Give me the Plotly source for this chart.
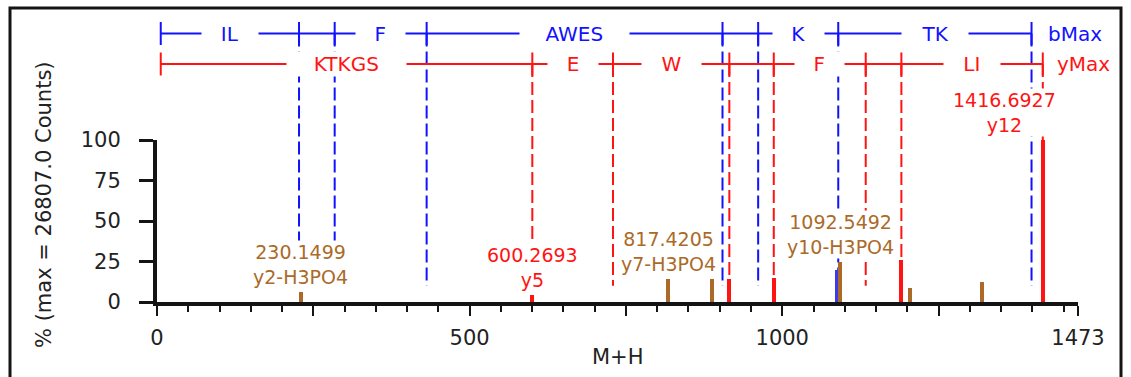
import plotly.graph_objects as go

# ---------------- data ----------------
# observed peaks (m/z, % of max intensity)
loss_mz = [230.15, 817.42, 888.0, 1092.55, 1204.0, 1320.0]      # brown: neutral-loss / other ions
loss_int = [6, 14, 14.5, 25, 8.5, 12.5]
y_mz = [600.27, 915.39, 986.43, 1190.52, 1416.69]               # red: y ions
y_int = [4.5, 14.5, 15, 26, 100]
b_mz = [1088.3]                                                  # blue: b ion
b_int = [20]

# annotated peaks
label_mz = [230.15, 600.27, 817.42, 1092.55, 1416.69]
label_int = [6, 4.5, 14, 25, 100]
label_text = ["230.1499<br>y2-H3PO4", "600.2693<br>y5", "817.4205<br>y7-H3PO4",
              "1092.5492<br>y10-H3PO4", "1416.6927<br>y12"]
label_kind = ["loss", "y", "loss", "loss", "y"]

# sequence ladders (fragment m/z values and residue labels between them)
b_ladder = [6, 227.16, 284.18, 431.25, 904.44, 961.46, 1089.55, 1398.68]
b_segments = ["IL", "", "F", "AWES", "", "K", "TK"]
y_ladder = [6, 600.27, 729.31, 915.39, 986.43, 1133.50, 1190.52, 1416.69]
y_segments = ["KTKGS", "E", "W", "", "F", "", "LI"]

x_tickvals = [0, 250, 500, 750, 1000, 1250, 1473]
x_ticktext = ["0", "", "500", "", "1000", "", "1473"]
y_tickvals = [0, 25, 50, 75, 100]

# ---------------- style ----------------
W, H = 1131, 377
ML, MR, MT, MB = 157, 53, 140, 75
PW, PH = W - ML - MR, H - MT - MB
BLUE, RED, BROWN, BPEAK = "#1212FF", "#FF1414", "#AB6A28", "#3C3CE6"
INK = "#141414"
FONT = "DejaVu Sans"

def py(pix):   # pixel row -> paper y
    return (H - MB - pix) / PH

def px(pix):   # pixel column -> paper x
    return (pix - ML) / PW

GLYPH = {'I': .295, 'L': .557, 'F': .575, 'A': .684, 'W': .989, 'E': .632,
         'S': .635, 'K': .656, 'T': .611, 'G': .775}

def box_w(t, size):
    return sum(GLYPH.get(c, .65) for c in t) * size * 1.27 + 34

fig = go.Figure()
fig.add_trace(go.Bar(x=b_mz, y=b_int, width=6.5, marker=dict(color=BPEAK, line=dict(width=0)),
                     name="b"))
fig.add_trace(go.Bar(x=loss_mz, y=loss_int, width=6.5, marker=dict(color=BROWN, line=dict(width=0)),
                     name="loss"))
fig.add_trace(go.Bar(x=y_mz, y=y_int, width=6.5, marker=dict(color=RED, line=dict(width=0)),
                     name="y"))

shapes = []
annotations = []

ladders = [(b_ladder, b_segments, BLUE, py(33.5), "bMax", 14),
           (y_ladder, y_segments, RED, py(64), "yMax", 12)]
tick_half = 11.5 / PH
for masses, segs, col, yl, endlab, endshift in ladders:
    # dashed drop lines from each fragment position
    for m in masses[1:]:
        shapes.append(dict(type="line", xref="x", yref="paper", x0=m, x1=m, y0=yl, y1=0.1,
                           line=dict(color=col, width=2, dash="13px,5px"), layer="below"))
for masses, segs, col, yl, endlab, endshift in ladders:
    shapes.append(dict(type="line", xref="x", yref="paper", x0=masses[0], x1=masses[-1],
                       y0=yl, y1=yl, line=dict(color=col, width=2), layer="above"))
    for m in masses:
        shapes.append(dict(type="line", xref="x", yref="paper", x0=m, x1=m,
                           y0=yl - tick_half, y1=yl + tick_half,
                           line=dict(color=col, width=2), layer="above"))
    for i, s in enumerate(segs):
        if not s:
            continue
        annotations.append(dict(x=(masses[i] + masses[i + 1]) / 2, y=yl, xref="x", yref="paper",
                                text=s, showarrow=False, xanchor="center", yanchor="middle",
                                bgcolor="white", width=box_w(s, 20), borderpad=0,
                                font=dict(family=FONT, size=20, color=col)))
    annotations.append(dict(x=masses[-1], y=yl, xref="x", yref="paper", text=endlab,
                            showarrow=False, xanchor="left", yanchor="middle", xshift=endshift,
                            font=dict(family=FONT, size=20, color=col)))

for m, v, t, k in zip(label_mz, label_int, label_text, label_kind):
    annotations.append(dict(x=m, y=v, xref="x", yref="y", text=t, showarrow=False,
                            xanchor="center", yanchor="bottom", yshift=3,
                            xshift=-38 if v >= 100 else 0,
                            bgcolor="white", borderpad=0,
                            font=dict(family=FONT, size=19, color=RED if k == "y" else BROWN)))

# axis titles
annotations.append(dict(x=px(44), y=py(205), xref="paper", yref="paper",
                        text="% (max = 26807.0 Counts)", textangle=-90, showarrow=False,
                        xanchor="center", yanchor="middle",
                        font=dict(family=FONT, size=21, color="#222222")))
annotations.append(dict(x=0.5, y=py(357), xref="paper", yref="paper", text="M+H",
                        showarrow=False, xanchor="center", yanchor="middle",
                        font=dict(family=FONT, size=21, color="#222222")))

# outer frame
shapes.append(dict(type="rect", xref="paper", yref="paper", x0=px(10), x1=px(1121),
                   y0=py(420), y1=py(8), line=dict(color=INK, width=3), layer="above"))

fig.update_layout(
    width=W, height=H, margin=dict(l=ML, r=MR, t=MT, b=MB),
    paper_bgcolor="white", plot_bgcolor="white",
    showlegend=False, barmode="overlay", bargap=0,
    shapes=shapes, annotations=annotations,
    xaxis=dict(range=[0, 1473], showgrid=False, zeroline=False, showline=True,
               linewidth=4, linecolor=INK, ticks="outside", ticklen=10, tickwidth=2,
               tickcolor=INK, tickmode="array", tickvals=x_tickvals, ticktext=x_ticktext,
               tickfont=dict(family=FONT, size=21, color="#222222"), ticklabelstandoff=4,
               minor=dict(tickmode="linear", tick0=0, dtick=50, ticks="outside",
                          ticklen=6, tickwidth=2, tickcolor=INK, showgrid=False)),
    yaxis=dict(range=[0, 100], showgrid=False, zeroline=False, showline=True,
               linewidth=4, linecolor=INK, ticks="outside", ticklen=14, tickwidth=2.5,
               tickcolor=INK, tickmode="array", tickvals=y_tickvals,
               tickfont=dict(family=FONT, size=21, color="#222222"), ticklabelstandoff=14),
)

fig.write_html("out.html", config={"displayModeBar": False})
